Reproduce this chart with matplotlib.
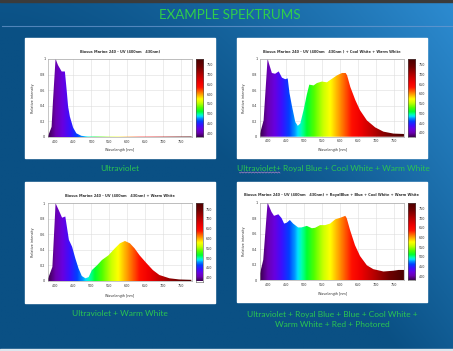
import numpy as np
import matplotlib
matplotlib.use("Agg")
import matplotlib.pyplot as plt
from matplotlib.colors import LinearSegmentedColormap
from matplotlib.patches import Rectangle, Polygon

# ---------------- data ----------------
slide_title = "EXAMPLE SPEKTRUMS"
chart_titles = [
    "Biosus Marine 240 - UV (400nm   430nm)",
    "Biosus Marine 240 - UV (400nm   430nm ) + Cool White + Warm White",
    "Biosus Marine 240 - UV (400nm   430nm) + Warm White",
    "Biosus Marine 240 - UV (400nm   430nm) + RoyalBlue + Blue + Cool White + Warm White",
]
captions = [
    "Ultraviolet",
    "Ultraviolet+ Royal Blue + Cool White + Warm White",
    "Ultraviolet + Warm White",
    "Ultraviolet + Royal Blue + Blue + Cool White +\nWarm White + Red + Photored",
]
x_ticks = [400, 450, 500, 550, 600, 650, 700, 750]
y_ticks = [0, 0.2, 0.4, 0.6, 0.8, 1]
y_tick_labels = ["0", "0.2", "0.4", "0.6", "0.8", "1"]
cbar_ticks = [400, 450, 500, 550, 600, 650, 700, 750]

uv_wl = [379, 389, 393, 400, 407, 417, 426, 431, 435, 440, 449, 458, 472, 490, 550, 650, 779]
uv_val = [0.01, 0.13, 0.47, 1.0, 0.92, 0.84, 0.84, 0.60, 0.39, 0.26, 0.12, 0.047, 0.015, 0.006, 0.004, 0.004, 0.006]

full_wl = [379, 389, 400, 412, 421, 431, 440, 449, 456, 461, 468, 477, 484, 491, 500, 509, 516,
           528, 537, 551, 565, 574, 593, 607, 617, 621, 630, 644, 657, 676, 699, 722, 750, 779]
full_val = [0.04, 0.21, 1.0, 0.82, 0.81, 0.84, 0.76, 0.74, 0.75, 0.56, 0.39, 0.19, 0.14, 0.17, 0.34,
            0.54, 0.67, 0.66, 0.69, 0.71, 0.70, 0.73, 0.79, 0.82, 0.82, 0.79, 0.64, 0.47, 0.34, 0.21,
            0.12, 0.065, 0.04, 0.035]

ww_wl = [379, 392, 401, 410, 419, 428, 433, 438, 447, 456, 465, 474, 484, 493, 502, 516, 530, 548,
         566, 580, 594, 608, 621, 635, 654, 672, 690, 718, 745, 779]
ww_val = [0.02, 0.18, 1.0, 0.91, 0.815, 0.83, 0.68, 0.53, 0.44, 0.29, 0.16, 0.064, 0.035, 0.05, 0.14,
          0.20, 0.27, 0.33, 0.42, 0.485, 0.515, 0.485, 0.42, 0.33, 0.23, 0.14, 0.077, 0.035, 0.02, 0.015]

all_wl = [379, 388, 400, 411, 418, 430, 439, 446, 453, 462, 471, 485, 494, 509, 523, 532, 546, 560,
          574, 588, 602, 616, 620, 629, 643, 657, 676, 694, 722, 750, 764, 779]
all_val = [0.086, 0.26, 1.0, 0.88, 0.83, 0.85, 0.80, 0.73, 0.74, 0.776, 0.73, 0.68, 0.68, 0.70, 0.67,
           0.675, 0.71, 0.71, 0.73, 0.785, 0.805, 0.83, 0.80, 0.65, 0.45, 0.31, 0.19, 0.14, 0.11, 0.12,
           0.13, 0.13]

spectra = [(uv_wl, uv_val), (full_wl, full_val), (ww_wl, ww_val), (all_wl, all_val)]

# ---------------- layout helpers ----------------
W, H = 453, 351
fig = plt.figure(figsize=(W / 100, H / 100), dpi=100)


def rect(x0, y0, x1, y1):
    return [x0 / W, 1 - y1 / H, (x1 - x0) / W, (y1 - y0) / H]


def fx(x):
    return x / W


def fy(y):
    return 1 - y / H


# background gradient
bg = fig.add_axes([0, 0, 1, 1])
bg.axis("off")
xx, yy = np.meshgrid(np.linspace(0, 1, 300), np.linspace(0, 1, 240))
t = np.clip(0.08 + 0.95 * xx ** 1.6 - 0.85 * yy, 0, 1)
dark = np.array([0x0a, 0x50, 0x84]) / 255
light = np.array([0x2c, 0x8a, 0xcf]) / 255
img = dark + (light - dark) * t[..., None]
bg.imshow(img, extent=[0, 1, 0, 1], aspect="auto", origin="upper")
bg.set_xlim(0, 1)
bg.set_ylim(0, 1)
bg.add_patch(Rectangle((0, 1 - 2 / H), 1, 2 / H, color="#3b3b3b", transform=bg.transAxes))
bg.add_patch(Rectangle((0, 0), 1, 2.5 / H, color="#dde6ee", transform=bg.transAxes))
bg.plot([fx(2), 1], [fy(26), fy(26)], color="#6f9ad0", lw=0.8, alpha=0.7)

fig.text(fx(230), fy(15), slide_title, color="#2fcf4a", fontsize=9.6, family="Lato",
         ha="center", va="center")

# spectrum colormap
stops = [(380, "#3c0050"), (400, "#6a00b0"), (420, "#6800e0"), (440, "#3a10ff"), (460, "#0040ff"),
         (475, "#0090ff"), (485, "#00e0ff"), (495, "#00ffb0"), (510, "#00ff30"), (530, "#50ff00"),
         (555, "#c8ff00"), (575, "#ffff00"), (595, "#ffb000"), (615, "#ff6000"), (635, "#ff1000"),
         (660, "#f00000"), (700, "#b40000"), (740, "#700000"), (780, "#4a0000")]
spec = LinearSegmentedColormap.from_list("spec", [((w - 380) / 400, c) for w, c in stops])

panels = [
    dict(box=(25, 38, 215, 158), ax=(48, 59, 192, 137), cb=(195.7, 59, 203, 137), title_y=52,
         ylab_x=32.7, xlab_y=150, cap=(120, 168)),
    dict(box=(237, 38, 427, 158), ax=(260, 59, 404.3, 136.7), cb=(407.7, 59, 415, 136.7), title_y=52,
         ylab_x=244, xlab_y=150, cap=(333, 169)),
    dict(box=(25, 182, 215, 303), ax=(47.7, 203.3, 191.7, 281), cb=(195.7, 203.3, 202.7, 281.5),
         title_y=196, ylab_x=32.7, xlab_y=296, cap=(120, 313)),
    dict(box=(237, 182, 427, 302), ax=(260, 202.7, 404.3, 280), cb=(407.7, 202.7, 415, 280),
         title_y=195, ylab_x=244, xlab_y=294, cap=(332, 319.5)),
]

small = dict(family="DejaVu Sans", color="#333333")

for i, p in enumerate(panels):
    x0, y0, x1, y1 = p["box"]
    bg.add_patch(Rectangle((fx(x0), fy(y1)), (x1 - x0) / W, (y1 - y0) / H, color="white",
                           transform=bg.transAxes, zorder=3))
    ax = fig.add_axes(rect(*p["ax"]))
    ax.set_facecolor("white")
    wl, val = spectra[i]
    ax.set_xlim(379, 780)
    ax.set_ylim(0, 1.0)
    ax.set_xticks(x_ticks)
    ax.set_xticklabels([str(v) for v in x_ticks])
    ax.set_yticks(y_ticks)
    ax.set_yticklabels(y_tick_labels)
    ax.tick_params(length=0, labelsize=2.4, colors="#333333", pad=2.0)
    ax.grid(True, color="#dddddd", lw=0.4)
    ax.set_axisbelow(True)
    for s in ax.spines.values():
        s.set_color("#9a9a9a")
        s.set_linewidth(0.4)
    grad = np.linspace(380, 780, 400).reshape(1, -1)
    im = ax.imshow(grad, extent=[380, 780, 0, 1.0], cmap=spec, vmin=380, vmax=780,
                   aspect="auto", interpolation="bilinear", zorder=2)
    verts = [(wl[0], 0)] + list(zip(wl, val)) + [(wl[-1], 0)]
    poly = Polygon(verts, closed=True, facecolor="none", edgecolor="none", transform=ax.transData)
    ax.add_patch(poly)
    im.set_clip_path(poly)

    cx0, cy0, cx1, cy1 = p["cb"]
    cax = fig.add_axes(rect(cx0, cy0, cx1, cy1))
    cgrad = np.linspace(380, 780, 400).reshape(-1, 1)
    cax.imshow(cgrad, extent=[0, 1, 380, 780], cmap=spec, vmin=380, vmax=780, aspect="auto",
               origin="lower", interpolation="bilinear")
    cax.set_xticks([])
    cax.yaxis.tick_right()
    cax.set_yticks(cbar_ticks)
    cax.set_yticklabels([str(v) for v in cbar_ticks])
    cax.tick_params(length=0, labelsize=2.4, colors="#333333", pad=2.5)
    for s in cax.spines.values():
        s.set_color("#555555")
        s.set_linewidth(0.4)

    axc = (p["ax"][0] + p["ax"][2]) / 2
    fig.text(fx((x0 + x1) / 2), fy(p["title_y"]), chart_titles[i], fontsize=2.5,
             fontweight="bold", ha="center", va="center", **small)
    fig.text(fx(axc), fy(p["xlab_y"]), "Wavelength [nm]", fontsize=2.4, ha="center",
             va="center", **small)
    fig.text(fx(p["ylab_x"]), fy((p["ax"][1] + p["ax"][3]) / 2), "Relative intensity",
             fontsize=2.4, rotation=90, ha="center", va="center", **small)
    fig.text(fx(p["cap"][0]), fy(p["cap"][1]), captions[i], color="#2bc552", fontsize=6.0,
             family="Lato", ha="center", va="center", linespacing=1.5)

# spell-check squiggle under first word of caption 2
sx = np.linspace(239.5, 280, 60)
sy = 172.5 + 0.6 * np.sin((sx - 239.5) * 2.2)
bg.plot(fx(sx), fy(sy), color="#c88bd0", lw=0.4, zorder=4)

fig.savefig("out.png", dpi=100)
